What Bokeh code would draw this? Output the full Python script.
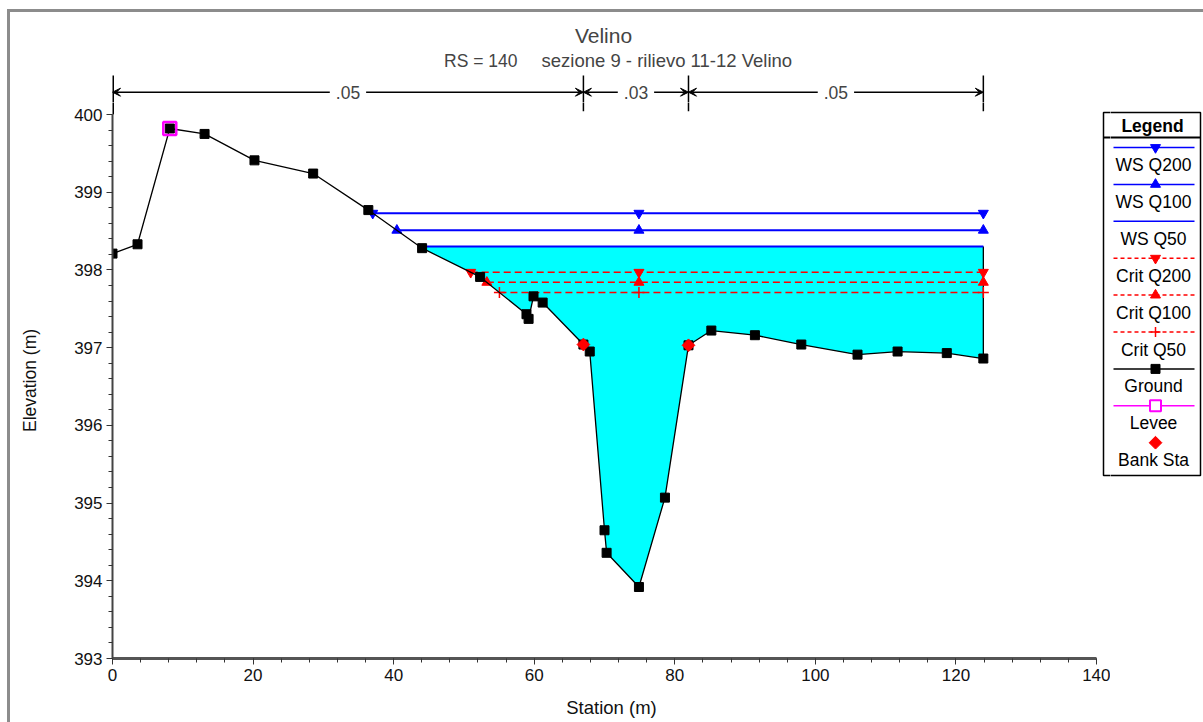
import numpy as np
from bokeh.plotting import figure
from bokeh.layouts import row, column
from bokeh.models import Range1d, LinearAxis, SingleIntervalTicker, Label, Arrow, VeeHead
from bokeh.core.properties import value
from bokeh.embed import file_html
from bokeh.resources import INLINE

# ---------------- data ----------------
title_text = "Velino"
subtitle_rs = "RS = 140"
subtitle_desc = "sezione 9 - rilievo 11-12 Velino"
x_label = "Station (m)"
y_label = "Elevation (m)"

station = [0.0, 3.56, 8.15, 13.1, 20.2, 28.55, 36.4, 44.05, 52.3, 58.9, 59.2, 59.9,
           61.2, 67.0, 67.9, 70.0, 70.3, 74.9, 78.6, 81.95, 85.2, 91.4, 98.0, 106.0,
           111.7, 118.7, 123.9]
elevation = [398.21, 398.33, 399.82, 399.75, 399.41, 399.24, 398.77, 398.28, 397.91,
             397.43, 397.37, 397.66, 397.58, 397.04, 396.95, 394.65, 394.36, 393.92,
             395.07, 397.03, 397.22, 397.16, 397.04, 396.91, 396.95, 396.93, 396.86]
levee_station = [8.15]
bank_station = [67.0, 81.95]
mann_n = [".05", ".03", ".05"]

ws_names = ["WS Q200", "WS Q100", "WS Q50"]
ws_elev = [398.73, 398.51, 398.30]
ws_markers = ["inverted_triangle", "triangle", None]
crit_names = ["Crit Q200", "Crit Q100", "Crit Q50"]
crit_elev = [397.97, 397.84, 397.71]
crit_markers = ["inverted_triangle", "triangle", "cross"]

x_min, x_max = 0, 140
y_min, y_max = 393, 400
x_ticks_interval = 20
y_ticks_interval = 1

# ---------------- layout (window pixels) ----------------
W, H = 1203, 722
ox, oy = 10, 12              # canvas origin in window (after css margin + border)
ax_left, ax_right = 112, 1096  # pixel span of station 0..140
ax_top, ax_bottom = 114, 658   # pixel span of elevation 400..393
split_x = 1110               # main plot / legend panel boundary
split_y = 102                # top strip / main plot boundary
px_per_x = (ax_right - ax_left) / (x_max - x_min)
px_per_y = (ax_bottom - ax_top) / (y_max - y_min)
x_hi = x_min + (split_x - ax_left) / px_per_x
y_hi = y_min + (ax_bottom - split_y) / px_per_y

FONT = "Liberation Sans"
FV = value(FONT)
BLUE = "#0000ff"
RED = "#ff0000"

st = np.array(station)
el = np.array(elevation)
thalweg = st[int(np.argmin(el))]
end_st = st[-1]
n_stations = [st[0]] + bank_station + [end_st]
yb = 91.7                    # bracket line (window px)
lg_l, lg_r, lg_t, lg_b = 1103, 1200, 112, 475

# ---------- top strip: titles + Manning's n bracket ----------
pt = figure(width=split_x - ox, height=split_y - oy, output_backend="svg", toolbar_location=None,
            x_range=Range1d(x_min, x_hi),
            y_range=Range1d(split_y, oy), x_axis_type=None, y_axis_type=None,
            min_border_left=ax_left - ox, min_border_right=0, min_border_top=0, min_border_bottom=0)
pt.outline_line_color = None
pt.extra_x_ranges = {"wx": Range1d(ax_left, split_x)}

for k, s in enumerate(n_stations):
    pt.line([s, s], [75, split_y + 2], line_color="black", line_width=3 if k == 0 else 1.5)
for i, n in enumerate(mann_n):
    a, b = n_stations[i], n_stations[i + 1]
    pt.add_layout(Arrow(x_start=a, y_start=yb, x_end=b, y_end=yb, line_width=1.5,
                        start=VeeHead(size=8, fill_color="black", line_color="black"),
                        end=VeeHead(size=8, fill_color="black", line_color="black")))
    pt.add_layout(Label(x=(a + b) / 2, y=yb, text=n, text_align="center", text_baseline="middle",
                        text_font=FONT, text_font_size="17.5px", background_fill_color="white",
                        padding=6))

pt.add_layout(Label(x=603, y=35, x_range_name="wx", text=title_text, text_align="center",
                    text_baseline="middle", text_font=FONT, text_font_size="21px"))
pt.add_layout(Label(x=517, y=60, x_range_name="wx", text=subtitle_rs, text_align="right",
                    text_baseline="middle", text_font=FONT, text_font_size="17.5px"))
pt.add_layout(Label(x=541, y=60, x_range_name="wx", text=subtitle_desc, text_align="left",
                    text_baseline="middle", text_font=FONT, text_font_size="18.5px"))

# ---------- main plot ----------
p = figure(width=split_x - ox, height=H - split_y, output_backend="svg", toolbar_location=None,
           x_range=Range1d(x_min, x_hi), y_range=Range1d(y_min, y_hi),
           x_axis_type=None, y_axis_type=None,
           min_border_left=ax_left - ox, min_border_bottom=H - ax_bottom,
           min_border_top=0, min_border_right=0)
p.outline_line_color = None
p.extra_x_ranges = {"wx": Range1d(ax_left, split_x)}
p.extra_y_ranges = {"wy": Range1d(ax_bottom, split_y)}
WR = dict(x_range_name="wx", y_range_name="wy")

xa = LinearAxis(bounds=(x_min, x_max), ticker=SingleIntervalTicker(interval=x_ticks_interval, num_minor_ticks=5),
                axis_label=x_label, axis_label_standoff=13)
ya = LinearAxis(bounds=(y_min, y_max), ticker=SingleIntervalTicker(interval=y_ticks_interval, num_minor_ticks=5),
                axis_label=y_label, axis_label_standoff=31)
for ax in (xa, ya):
    ax.major_label_text_font = FONT
    ax.major_label_text_font_size = "17px"
    ax.major_label_text_color = "#111111"
    ax.axis_label_text_font = FONT
    ax.axis_label_text_font_style = "normal"
    ax.axis_label_text_color = "#111111"
    ax.major_tick_in = 0
    ax.major_tick_out = 6
    ax.minor_tick_in = 0
    ax.minor_tick_out = 4
    ax.major_tick_line_color = "#333333"
    ax.minor_tick_line_color = "#333333"
    ax.major_label_standoff = 4
xa.axis_label_text_font_size = "18.5px"
ya.axis_label_text_font_size = "17.5px"
xa.axis_line_width = 3
xa.axis_line_color = "#555555"
ya.axis_line_width = 2
ya.axis_line_color = "#444444"
p.add_layout(xa, "below")
p.add_layout(ya, "left")

# lower ends of the bracket ticks (continue from the top strip)
for k, s in enumerate(n_stations):
    p.line([s, s], [y_max if k == 0 else y_hi - (110.7 - split_y) / px_per_y, y_hi + 0.05],
           line_color="black", line_width=3 if k == 0 else 1.5)


def left_crossing(level):
    i = int(np.argmin(el))
    while i > 0 and el[i - 1] < level:
        i -= 1
    x0, x1, y0, y1 = st[i - 1], st[i], el[i - 1], el[i]
    return x0 + (y0 - level) / (y0 - y1) * (x1 - x0)


q50 = ws_elev[-1]
xc = left_crossing(q50)
fx = np.concatenate([[xc], st[st > xc]])
fg = np.interp(fx, st, el)
p.varea(x=fx, y1=fg, y2=np.full(len(fx), q50), fill_color="#00ffff")
p.line([end_st, end_st], [el[-1], q50], line_color="black", line_width=1.3)

for name, lvl, mk in zip(ws_names, ws_elev, ws_markers):
    xs = left_crossing(lvl)
    p.line([xs, end_st], [lvl, lvl], line_color=BLUE, line_width=2)
    if mk:
        p.scatter([xs, thalweg, end_st], [lvl] * 3, marker=mk, size=10,
                  fill_color=BLUE, line_color=BLUE)

for name, lvl, mk in zip(crit_names, crit_elev, crit_markers):
    xs = left_crossing(lvl)
    p.line([xs, end_st], [lvl, lvl], line_color=RED, line_width=1.5, line_dash="7 4")
    if mk == "cross":
        p.scatter([xs, thalweg, end_st], [lvl] * 3, marker=mk, size=11,
                  line_color=RED, line_width=1.5)
    else:
        p.scatter([xs, thalweg, end_st], [lvl] * 3, marker=mk, size=10,
                  fill_color=RED, line_color=RED)

p.line(station, elevation, line_color="black", line_width=1.3)
p.scatter(station, elevation, marker="square", size=9, fill_color="black", line_color="black")
lev_y = np.interp(levee_station, st, el)
p.scatter(levee_station, lev_y, marker="square", size=13, fill_color=None,
          line_color="#ff00ff", line_width=2.5)
bank_y = np.interp(bank_station, st, el)
p.scatter(bank_station, bank_y, marker="square", angle=np.pi / 4, size=9,
          fill_color=RED, line_color=RED)

# left part of the legend frame (continues in the legend panel)
p.quad(left=[lg_l], right=[lg_r], top=[lg_t], bottom=[lg_b], fill_color="white",
       line_color="black", line_width=1.5, **WR)
p.line([lg_l, lg_r], [137, 137], line_color="black", line_width=2, **WR)

# ---------- legend panel ----------
pl = figure(width=W - split_x, height=H - oy, output_backend="svg", toolbar_location=None,
            x_range=Range1d(split_x, W), y_range=Range1d(H, oy),
            x_axis_type=None, y_axis_type=None,
            min_border_left=0, min_border_right=0, min_border_top=0, min_border_bottom=0)
pl.outline_line_color = None

pl.quad(left=[lg_l], right=[lg_r], top=[lg_t], bottom=[lg_b], fill_color="white",
        line_color="black", line_width=1.5)
pl.line([lg_l, lg_r], [137, 137], line_color="black", line_width=2)
pl.text([1152], [125], text=["Legend"], text_align="center", text_baseline="middle",
        text_font=FV, text_font_size="17.5px", text_font_style="bold")

entries = []
for name, mk in zip(ws_names, ws_markers):
    entries.append((name, BLUE, None, mk, BLUE, False))
for name, mk in zip(crit_names, crit_markers):
    entries.append((name, RED, "4 3", mk, RED, False))
entries.append(("Ground", "black", None, "square", "black", False))
entries.append(("Levee", "#ff00ff", None, "square", None, True))
entries.append(("Bank Sta", None, None, "diamond_r", RED, False))

for i, (name, lc, dash, mk, fc, hollow) in enumerate(entries):
    ly = 147 + i * 36.9
    if lc:
        kw = dict(line_color=lc, line_width=1.5)
        if dash:
            kw["line_dash"] = dash
        pl.line([1113, 1194], [ly, ly], **kw)
        p.line([1113, 1194], [ly, ly], **kw, **WR)
    if mk == "cross":
        pl.scatter([1155], [ly], marker="cross", size=10, line_color=fc, line_width=1.5)
    elif mk == "diamond_r":
        pl.scatter([1155], [ly], marker="square", angle=np.pi / 4, size=9, fill_color=fc, line_color=fc)
    elif hollow:
        pl.scatter([1155], [ly], marker="square", size=11, fill_color="white", line_color=lc, line_width=2)
    elif mk:
        pl.scatter([1155], [ly], marker=mk, size=10 if mk != "square" else 9, fill_color=fc, line_color=fc)
    pl.text([1153], [ly + 17.5], text=[name], text_align="center", text_baseline="middle",
            text_font=FV, text_font_size="17.5px")

layout = row(column(pt, p, spacing=0), pl, spacing=0)
layout.margin = (9, 0, 0, 7)
layout.styles = {"border-top": "3px solid #8c8c8c", "border-left": "3px solid #8c8c8c",
                 "background-color": "white"}

open("out.html", "w").write(file_html(layout, INLINE))
